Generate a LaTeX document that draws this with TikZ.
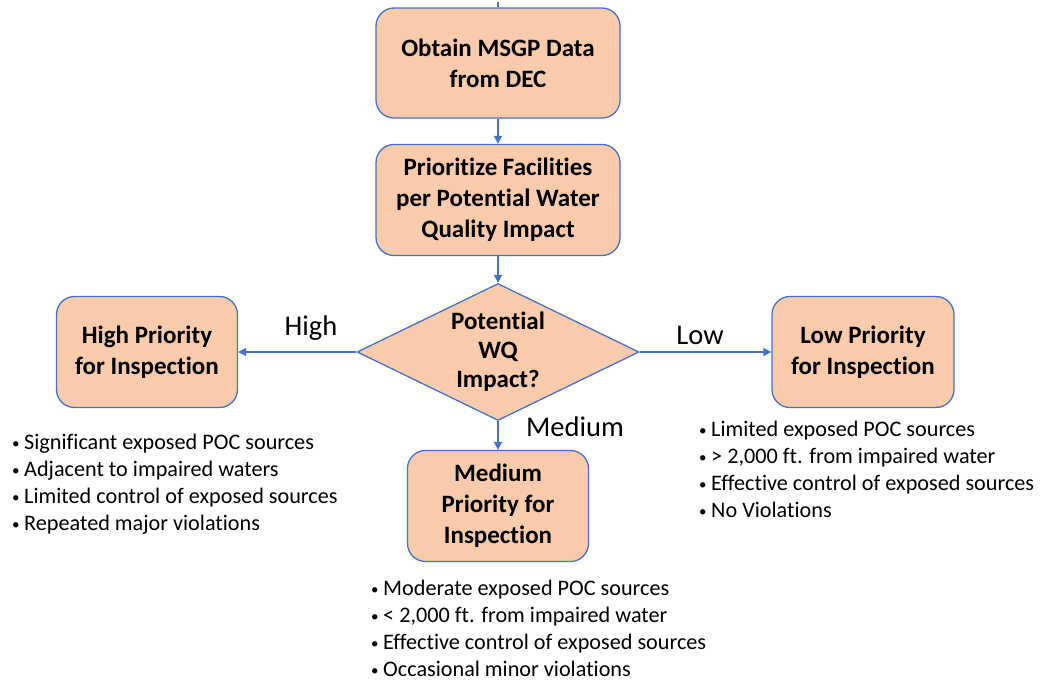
\documentclass[tikz,border=0pt]{standalone}
\usepackage{fontspec}
\setmainfont{Carlito}[Ligatures=NoCommon]
\usetikzlibrary{shapes.geometric,arrows.meta}
\definecolor{peach}{RGB}{248,203,173}
\definecolor{edgeblue}{RGB}{68,114,196}
\newcommand{\bul}{\makebox[12pt][l]{\raisebox{1.5pt}{\fontsize{15}{15}\selectfont •}}}
\begin{document}
\begin{tikzpicture}[x=1pt,y=-1pt,
  box/.style={draw=edgeblue,line width=1.3pt,fill=peach,rounded corners=18pt,align=center,
    font=\fontsize{25}{31}\selectfont\bfseries,inner sep=0pt},
  dec/.style={diamond,draw=edgeblue,line width=1.3pt,fill=peach,align=center,
    font=\fontsize{25}{29}\selectfont\bfseries,inner sep=-14pt,minimum width=282pt,minimum height=137pt},
  conn/.style={draw=edgeblue,line width=1.6pt,-{Triangle[length=8pt,width=8pt]}},
  lbl/.style={font=\fontsize{28.5}{34}\selectfont,inner sep=0pt},
  blist/.style={font=\fontsize{22.2}{27}\selectfont,align=left,anchor=north west,inner sep=0pt}]
\useasboundingbox (0,0) rectangle (1041,681);
\node[box,minimum width=244pt,minimum height=110pt] (b1) at (498,63) {Obtain MSGP Data\\from DEC};
\node[box,minimum width=244pt,minimum height=111pt] (b2) at (498,200) {Prioritize Facilities\\per Potential Water\\Quality Impact};
\node[dec] (dm) at (498,352) {Potential\\WQ\\Impact?};
\node[box,minimum width=181pt,minimum height=111pt] (hi) at (147,352) {High Priority\\for Inspection};
\node[box,minimum width=182pt,minimum height=111pt] (lo) at (863,352) {Low Priority\\for Inspection};
\node[box,minimum width=181pt,minimum height=111pt] (md) at (498,506) {Medium\\Priority for\\Inspection};
\coordinate (stub) at (498,2);
\draw[draw=edgeblue,line width=1.3pt] (b1.north) -- (stub);
\draw[conn] (b1) -- (b2);
\draw[conn] (b2) -- (dm);
\draw[conn] (dm.west) -- (hi);
\draw[conn] (dm.east) -- (lo);
\draw[conn] (dm.south) -- (md);
\node[lbl] (lh) at (311,328) {High};
\node[lbl] (ll) at (700,335) {Low};
\node[lbl] (lm) at (575,427) {Medium};
\node[blist] (th) at (12,434) {\bul Significant exposed POC sources\\\bul Adjacent to impaired waters\\\bul Limited control of exposed sources\\\bul Repeated major violations};
\node[blist] (tl) at (699,421) {\bul Limited exposed POC sources\\\bul > 2,000 ft. from impaired water\\\bul Effective control of exposed sources\\\bul No Violations};
\node[blist] (tm) at (371,580) {\bul Moderate exposed POC sources\\\bul < 2,000 ft. from impaired water\\\bul Effective control of exposed sources\\\bul Occasional minor violations};
\end{tikzpicture}
\end{document}
